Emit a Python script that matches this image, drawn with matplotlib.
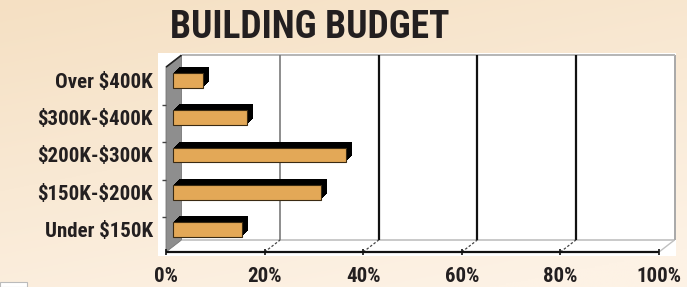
import numpy as np
import matplotlib
matplotlib.use("Agg")
import matplotlib.pyplot as plt
from matplotlib.patches import Polygon, Rectangle
from matplotlib.transforms import offset_copy

plt.rcParams['text.parse_math'] = False

# ---- data ----
categories = ["Under $150K", "$150K-$200K", "$200K-$300K", "$300K-$400K", "Over $400K"]
values = [14, 30, 35, 15, 6]
xticks = [0, 20, 40, 60, 80, 100]
xtick_labels = ["0%", "20%", "40%", "60%", "80%", "100%"]
title = "BUILDING BUDGET"

FONT = ['Roboto Condensed', 'DejaVu Sans']
TXT = '#231f20'
BAR = '#E3A857'

W, H = 687, 287
fig = plt.figure(figsize=(W / 100, H / 100), dpi=100)

# background gradient
bg = fig.add_axes([0, 0, 1, 1], zorder=-10)
yy, xx = np.mgrid[0:1:200j, 0:1:400j]
t = np.clip(0.75 * yy + 0.35 * xx, 0, 1)
c0 = np.array([245, 224, 195]) / 255
c1 = np.array([253, 242, 229]) / 255
img = c0[None, None, :] * (1 - t[..., None]) + c1[None, None, :] * t[..., None]
bg.imshow(img, aspect='auto', extent=[0, 1, 0, 1], origin='upper')
bg.set_xlim(0, 1); bg.set_ylim(0, 1)
bg.axis('off')
bg.add_patch(Rectangle((0, 0), 27 / W, 5 / H, facecolor='white', edgecolor='#bbbbbb', lw=0.8))

# main axes (white plot area)
L, R, T, B = 158, 676, 53, 256
ax = fig.add_axes([L / W, 1 - B / H, (R - L) / W, (B - T) / H])
ax.set_facecolor('white')
for s in ax.spines.values():
    s.set_visible(False)

x0px, pxu = 173, 4.93
y0px, pyu = 229.5, 37.25
ax.set_xlim((L - x0px) / pxu, (R - x0px) / pxu)
ax.set_ylim((y0px - B) / pyu, (y0px - T) / pyu)

floor = -0.443
top = 4.52
BX, BY = 8.5, 6      # back-plane offset (px)
FX, FY = -7, -6      # front-plane offset (px)


def shift(x, y, dx, dy):
    p = ax.transData.transform((x, y)) + np.array([dx, dy])
    return ax.transData.inverted().transform(p)


def line(p, q, **kw):
    ax.plot([p[0], q[0]], [p[1], q[1]], solid_capstyle='butt', **kw)


# left wall
wall = [shift(0, floor, FX, FY), shift(0, floor, BX, BY), shift(0, top, BX, BY), shift(0, top, FX, FY)]
ax.add_patch(Polygon(wall, closed=True, facecolor='#8e8e8e', edgecolor='#767676', lw=0.6, zorder=1))

# back plane box edges
line(shift(0, floor, BX, BY), shift(100, floor, BX, BY), color='#c0c0c0', lw=1.2, zorder=1)
line(shift(100, floor, BX, BY), shift(100, top, BX, BY), color='#a8a8a8', lw=1.4, zorder=1)
line(shift(0, top, BX, BY), shift(100, top, BX, BY), color='#b5b5b5', lw=1.4, zorder=1)
line(shift(100, floor, FX, FY), shift(100, floor, BX, BY), color='#c0c0c0', lw=1.0, zorder=1)
line(shift(0, top, FX, FY), shift(0, top, BX, BY), color='#222222', lw=1.2, zorder=2)

# gridlines on back wall
for v in xticks[1:-1]:
    col, lw = ('#7a7a7a', 1.2) if v == 20 else ('#111111', 1.6)
    line(shift(v, floor, BX, BY), shift(v, top, BX, BY), color=col, lw=lw, zorder=1)
    line(shift(v, floor, FX, FY), shift(v, floor, BX, BY), color='#444444', lw=0.9, ls=(0, (2, 1.5)), zorder=1)

# front axis
line(shift(0, floor, FX, FY), shift(100, floor, FX, FY), color='#111111', lw=1.6, zorder=3)
for v in xticks:
    line(shift(v, floor, FX, FY + 3), shift(v, floor, FX, FY - 3), color='#111111', lw=1.2, zorder=3)
for b in np.arange(len(categories)) - 0.5:
    if b < floor:
        continue
    line(shift(0, b, FX - 4, FY), shift(0, b, FX, FY), color='#444444', lw=1.0, zorder=3)

# bars with 3D shadow
ypos = np.arange(len(categories))
bh = 0.39
for k in range(1, 7):
    tr = offset_copy(ax.transData, fig=fig, x=k, y=k, units='dots')
    ax.barh(ypos, values, height=bh, left=0, color='black', transform=tr, zorder=4)
ax.barh(ypos, values, height=bh, left=0, color=BAR, edgecolor='#3a2a12', lw=0.8, zorder=5)

ax.set_xlim((L - x0px) / pxu, (R - x0px) / pxu)
ax.set_ylim((y0px - B) / pyu, (y0px - T) / pyu)

# y tick labels
ax.set_yticks(ypos)
ax.set_yticklabels(categories, family=FONT, fontweight='bold', fontsize=15, color=TXT)
ax.tick_params(axis='y', length=0, pad=3.6)
ax.set_xticks([])

# x tick labels (front plane)
for v, lab in zip(xticks, xtick_labels):
    px, py = shift(v, floor, FX, FY - 24)
    ax.text(px, py, lab, ha='center', va='center', family=FONT, fontweight='bold',
            fontsize=15, color=TXT, clip_on=False)

fig.text(309.5 / W, 1 - 27.5 / H, title, ha='center', va='center', family=FONT,
         fontweight='bold', fontsize=27, color=TXT)

fig.savefig('out.png', dpi=100)
